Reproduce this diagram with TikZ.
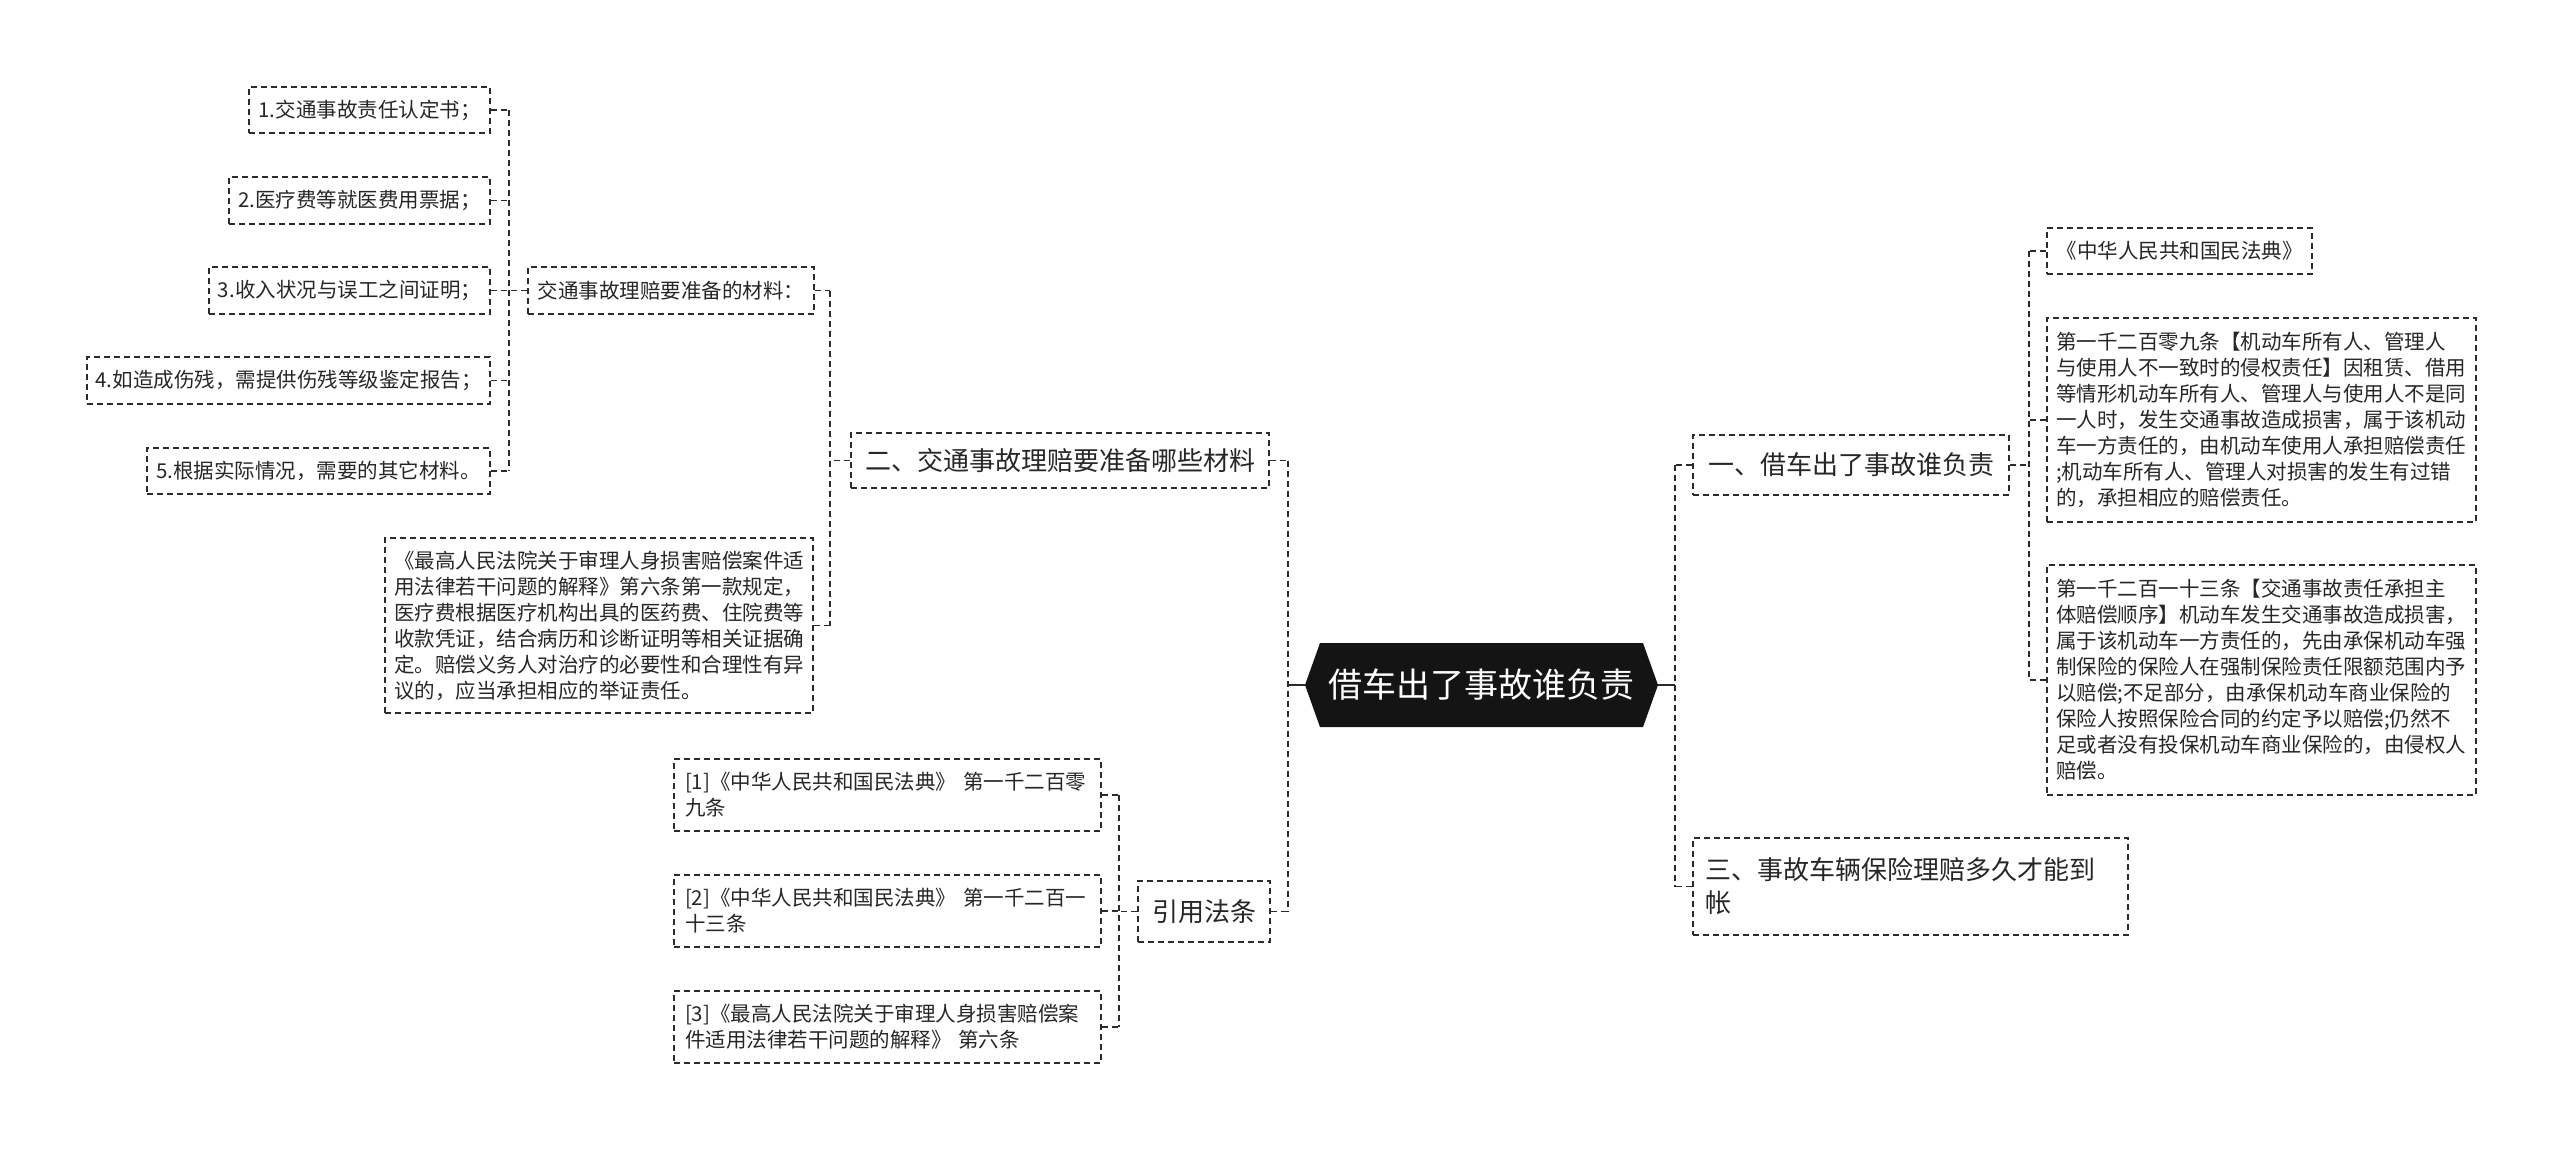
\documentclass[tikz,border=0pt]{standalone}
\usepackage{fontspec}
\setmainfont{Noto Sans CJK SC}
\definecolor{txt}{HTML}{262626}
\definecolor{lc}{HTML}{2B2B2B}
\definecolor{rootc}{HTML}{141414}
\begin{document}
\begin{tikzpicture}[x=1pt,y=-1pt,
  bx/.style={draw=lc, line width=1.8pt, dash pattern=on 6pt off 4pt, inner sep=0pt, align=left, text=txt},
  sm/.style={font=\fontsize{20.5}{26}\selectfont},
  md/.style={font=\fontsize{26}{33}\selectfont},
  ln/.style={draw=lc, line width=1.9pt, dash pattern=on 6pt off 4pt},
  solidl/.style={draw=lc, line width=2pt},
]
\useasboundingbox (0,0) rectangle (2560,1151);

% root
\node[font=\fontsize{34}{40}\selectfont, text=white, minimum width=353pt, minimum height=84pt, inner sep=0pt,
  path picture={\fill[rootc] (path picture bounding box.west) -- ([xshift=15pt]path picture bounding box.north west) -- ([xshift=-15pt]path picture bounding box.north east) -- (path picture bounding box.east) -- ([xshift=-15pt]path picture bounding box.south east) -- ([xshift=15pt]path picture bounding box.south west) -- cycle;}]
  (root) at (1481.5,685) {借车出了事故谁负责};

% left branch 二
\node[bx, md, minimum width=418pt, minimum height=55pt] (n2) at (1060,460.5) {二、交通事故理赔要准备哪些材料};
\node[bx, sm, minimum width=286pt, minimum height=47pt] (mat) at (671,290.5) {交通事故理赔要准备的材料：};
\node[bx, sm, minimum width=241pt, minimum height=46pt] (m1) at (369.5,110) {1.交通事故责任认定书；};
\node[bx, sm, minimum width=261pt, minimum height=47pt] (m2) at (359.5,200.5) {2.医疗费等就医费用票据；};
\node[bx, sm, minimum width=281pt, minimum height=47pt] (m3) at (349.5,290.5) {3.收入状况与误工之间证明；};
\node[bx, sm, minimum width=403pt, minimum height=47pt] (m4) at (288.5,380.5) {4.如造成伤残，需提供伤残等级鉴定报告；};
\node[bx, sm, minimum width=343pt, minimum height=46pt] (m5) at (318.5,471) {5.根据实际情况，需要的其它材料。};
\node[bx, sm, text width=410pt, minimum width=428pt, minimum height=175pt] (law) at (599,625.5)
 {《最高人民法院关于审理人身损害赔偿案件适\\用法律若干问题的解释》第六条第一款规定，\\医疗费根据医疗机构出具的医药费、住院费等\\收款凭证，结合病历和诊断证明等相关证据确\\定。赔偿义务人对治疗的必要性和合理性有异\\议的，应当承担相应的举证责任。};

% left branch 引用法条
\node[bx, md, minimum width=132pt, minimum height=61pt] (cite) at (1204,911.5) {引用法条};
\node[bx, sm, text width=405pt, minimum width=427pt, minimum height=72pt] (r1) at (887.5,795)
 {[1]《中华人民共和国民法典》 第一千二百零\\九条};
\node[bx, sm, text width=405pt, minimum width=427pt, minimum height=72pt] (r2) at (887.5,911)
 {[2]《中华人民共和国民法典》 第一千二百一\\十三条};
\node[bx, sm, text width=405pt, minimum width=427pt, minimum height=72pt] (r3) at (887.5,1027)
 {[3]《最高人民法院关于审理人身损害赔偿案\\件适用法律若干问题的解释》 第六条};

% right branch 一
\node[bx, md, minimum width=316pt, minimum height=60pt] (n1) at (1851,465) {一、借车出了事故谁负责};
\node[bx, sm, minimum width=265pt, minimum height=46pt] (c1) at (2179.5,251) {《中华人民共和国民法典》};
\node[bx, sm, text width=411pt, minimum width=429pt, minimum height=204pt] (c2) at (2261.5,420)
 {第一千二百零九条【机动车所有人、管理人\\与使用人不一致时的侵权责任】因租赁、借用\\等情形机动车所有人、管理人与使用人不是同\\一人时，发生交通事故造成损害，属于该机动\\车一方责任的，由机动车使用人承担赔偿责任\\;机动车所有人、管理人对损害的发生有过错\\的，承担相应的赔偿责任。};
\node[bx, sm, text width=411pt, minimum width=429pt, minimum height=230pt] (c3) at (2261.5,680)
 {第一千二百一十三条【交通事故责任承担主\\体赔偿顺序】机动车发生交通事故造成损害，\\属于该机动车一方责任的，先由承保机动车强\\制保险的保险人在强制保险责任限额范围内予\\以赔偿;不足部分，由承保机动车商业保险的\\保险人按照保险合同的约定予以赔偿;仍然不\\足或者没有投保机动车商业保险的，由侵权人\\赔偿。};

% right branch 三
\node[bx, md, text width=411pt, minimum width=435pt, minimum height=97pt] (n3) at (1910.5,886.5)
 {三、事故车辆保险理赔多久才能到\\帐};

% connectors: root level
\draw[solidl] (root.west) -- ++(-17,0) coordinate (lb);
\draw[ln] (n2.east) -- (n2.east -| lb);
\draw[ln] (cite.east) -- (cite.east -| lb);
\draw[ln] (n2.east -| lb) -- (cite.east -| lb);
\draw[solidl] (root.east) -- ++(17,0) coordinate (rb);
\draw[ln] (n1.west) -- (n1.west -| rb);
\draw[ln] (n3.west) -- (n3.west -| rb);
\draw[ln] (n1.west -| rb) -- (n3.west -| rb);

% under 二
\coordinate (b2) at ([xshift=-20pt]n2.west);
\draw[ln] (n2.west) -- (b2);
\draw[ln] (mat.east) -- (mat.east -| b2);
\draw[ln] (law.east) -- (law.east -| b2);
\draw[ln] (mat.east -| b2) -- (law.east -| b2);

% under materials
\coordinate (bm) at ([xshift=-18pt]mat.west);
\draw[ln] (mat.west) -- (bm);
\foreach \m in {m1,m2,m3,m4,m5} \draw[ln] (\m.east) -- (\m.east -| bm);
\draw[ln] (m1.east -| bm) -- (m5.east -| bm);

% under 引用法条
\coordinate (bc) at ([xshift=-18pt]cite.west);
\draw[ln] (cite.west) -- (bc);
\foreach \m in {r1,r2,r3} \draw[ln] (\m.east) -- (\m.east -| bc);
\draw[ln] (r1.east -| bc) -- (r3.east -| bc);

% under 一
\coordinate (b1) at ([xshift=19pt]n1.east);
\draw[ln] (n1.east) -- (b1);
\foreach \m in {c1,c2,c3} \draw[ln] (\m.west) -- (\m.west -| b1);
\draw[ln] (c1.west -| b1) -- (c3.west -| b1);
\end{tikzpicture}
\end{document}
